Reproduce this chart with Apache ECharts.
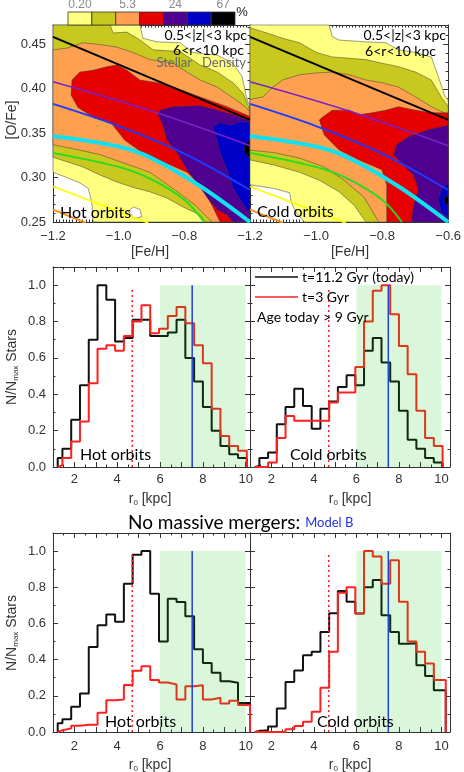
<!DOCTYPE html>
<html>
<head>
<meta charset="utf-8">
<script src="https://cdn.jsdelivr.net/npm/echarts@6/dist/echarts.min.js"></script>
<style>
html,body{margin:0;padding:0;background:#fff}
#main{width:464px;height:772px}
</style>
</head>
<body>
<div id="main"></div>
<script>
// colour bar of the density contours (% of stars)
var levelColors = ['#ffff80', '#c8c81e', '#ffa050', '#e60000', '#500090', '#0000c8', '#000000'];
var levelLabels = ['0.20', '', '5.3', '', '24', '', '67'];

// filled contour outlines, [Fe/H, O/Fe]; hot orbits
var hotYellow = [[-1.2,0.472],[-0.935,0.472],[-0.926,0.457],[-0.883,0.453],[-0.813,0.452],[-0.774,0.441],[-0.700,0.438],[-0.652,0.429],[-0.624,0.414],[-0.609,0.388],[-0.6,0.380],[-0.6,0.25],[-1.078,0.25],[-1.081,0.269],[-1.087,0.280],[-1.093,0.288],[-1.118,0.294],[-1.157,0.300],[-1.2,0.306]];
var hotHole = [[-0.97,0.262],[-0.955,0.267],[-0.935,0.264],[-0.93,0.256],[-0.952,0.254]];
var hotOlive = [[-1.2,0.472],[-1.026,0.472],[-1.017,0.463],[-0.975,0.464],[-0.935,0.455],[-0.895,0.444],[-0.813,0.442],[-0.752,0.427],[-0.700,0.419],[-0.652,0.407],[-0.621,0.395],[-0.6,0.376],[-0.6,0.25],[-0.737,0.25],[-0.752,0.258],[-0.804,0.267],[-0.853,0.277],[-0.905,0.284],[-0.956,0.289],[-1.005,0.295],[-1.057,0.303],[-1.109,0.312],[-1.2,0.323]];
var hotOrange = [[-1.2,0.444],[-1.157,0.446],[-1.109,0.452],[-1.057,0.450],[-1.005,0.447],[-0.956,0.441],[-0.905,0.433],[-0.834,0.429],[-0.792,0.419],[-0.752,0.410],[-0.700,0.402],[-0.652,0.390],[-0.615,0.380],[-0.6,0.374],[-0.6,0.25],[-0.716,0.25],[-0.767,0.269],[-0.828,0.286],[-0.905,0.306],[-0.996,0.318],[-1.057,0.326],[-1.118,0.331],[-1.2,0.337]];
var hotRed = [[-1.142,0.410],[-1.118,0.419],[-1.078,0.421],[-1.036,0.425],[-1.005,0.427],[-0.975,0.421],[-0.935,0.410],[-0.883,0.407],[-0.834,0.402],[-0.752,0.391],[-0.670,0.380],[-0.6,0.369],[-0.6,0.25],[-0.691,0.25],[-0.716,0.269],[-0.752,0.292],[-0.792,0.306],[-0.859,0.317],[-0.920,0.326],[-0.981,0.342],[-1.026,0.363],[-1.072,0.367],[-1.124,0.379],[-1.145,0.393]];
var hotPurple = [[-0.874,0.376],[-0.834,0.380],[-0.752,0.381],[-0.700,0.376],[-0.652,0.371],[-0.6,0.364],[-0.6,0.25],[-0.652,0.25],[-0.670,0.258],[-0.700,0.264],[-0.731,0.278],[-0.761,0.294],[-0.792,0.309],[-0.822,0.328],[-0.853,0.342],[-0.865,0.359],[-0.880,0.371]];
var hotBlue = [[-0.713,0.357],[-0.691,0.362],[-0.661,0.359],[-0.630,0.363],[-0.6,0.362],[-0.6,0.260],[-0.609,0.264],[-0.630,0.275],[-0.652,0.289],[-0.670,0.309],[-0.691,0.328],[-0.700,0.342]];
var hotBlack = [[-0.6,0.342],[-0.615,0.337],[-0.618,0.329],[-0.6,0.322]];

// cold orbits
var coldYellow = [[-1.2,0.472],[-0.96,0.472],[-0.951,0.459],[-0.93,0.455],[-0.849,0.453],[-0.789,0.452],[-0.75,0.444],[-0.699,0.441],[-0.651,0.436],[-0.63,0.414],[-0.609,0.391],[-0.6,0.388],[-0.6,0.25],[-1.035,0.25],[-1.059,0.260],[-1.074,0.271],[-1.08,0.283],[-1.131,0.288],[-1.2,0.292]];
var coldOlive = [[-1.2,0.469],[-1.149,0.463],[-1.101,0.457],[-1.05,0.452],[-0.999,0.441],[-0.951,0.436],[-0.849,0.433],[-0.801,0.429],[-0.75,0.425],[-0.699,0.419],[-0.651,0.410],[-0.621,0.391],[-0.6,0.380],[-0.6,0.25],[-0.849,0.25],[-0.885,0.269],[-0.93,0.284],[-0.99,0.297],[-1.05,0.306],[-1.125,0.314],[-1.2,0.320]];
var coldOrange = [[-1.2,0.388],[-1.161,0.391],[-1.131,0.402],[-1.101,0.410],[-1.05,0.416],[-0.999,0.418],[-0.951,0.419],[-0.9,0.416],[-0.849,0.410],[-0.801,0.407],[-0.75,0.402],[-0.699,0.391],[-0.651,0.380],[-0.6,0.371],[-0.6,0.25],[-0.81,0.25],[-0.855,0.278],[-0.915,0.297],[-0.975,0.312],[-1.05,0.322],[-1.125,0.328],[-1.2,0.331]];
var coldRed = [[-0.981,0.368],[-0.951,0.376],[-0.9,0.376],[-0.87,0.371],[-0.831,0.373],[-0.789,0.376],[-0.75,0.380],[-0.699,0.376],[-0.651,0.373],[-0.6,0.373],[-0.6,0.25],[-0.786,0.25],[-0.786,0.292],[-0.801,0.309],[-0.87,0.320],[-0.93,0.331],[-0.975,0.348],[-0.99,0.365]];
var coldPurple = [[-0.6,0.359],[-0.66,0.354],[-0.72,0.346],[-0.756,0.337],[-0.765,0.326],[-0.735,0.314],[-0.705,0.303],[-0.69,0.286],[-0.705,0.269],[-0.711,0.25],[-0.6,0.25]];
var coldBlue = [[-0.6,0.294],[-0.621,0.286],[-0.63,0.275],[-0.621,0.261],[-0.6,0.256]];
var coldBlack = [[-0.6,0.280],[-0.612,0.277],[-0.609,0.271],[-0.6,0.269]];

// model tracks over the contours
var trackBlack  = [[-1.2,0.4586],[-0.6,0.365]];
var trackPurple = [[-1.2,0.408],[-0.9,0.375],[-0.6,0.336]];
var trackBlue   = [[-1.2,0.383],[-1.0,0.358],[-0.8,0.327],[-0.6,0.286]];
var trackCyan   = [[-1.2,0.347],[-1.0,0.335],[-0.9,0.322],[-0.75,0.29],[-0.6,0.25]];
var trackGreen  = [[-1.2,0.328],[-1.0,0.312],[-0.9,0.298],[-0.8,0.275],[-0.74,0.25]];
var trackYellow = [[-1.2,0.29],[-0.91,0.249]];
var trackOrange = [[-1.2,0.264],[-1.1,0.249]];

// r0 histograms, bin edges [kpc]
var rEdges  = [1.22,1.44,1.85,2.26,2.67,3.08,3.49,3.9,4.31,4.72,5.13,5.54,5.95,6.36,6.77,7.18,7.59,8.0,8.41,8.82,9.23,9.64,10.05];
var rEdgesB = [1.22,1.44,1.85,2.26,2.67,3.08,3.49,3.9,4.31,4.72,5.13,5.54,5.95,6.36,6.77,7.18,7.59,8.0,8.41,8.82,9.23,9.64,10.2];
var hotToday  = [0.05,0.10,0.26,0.45,0.70,1.0,0.92,0.69,0.71,0.81,0.81,0.72,0.72,0.74,0.81,0.60,0.47,0.33,0.20,0.115,0.07,0.05];
var hot3Gyr   = [0.01,0.05,0.14,0.25,0.46,0.65,0.67,0.64,0.72,0.80,0.89,0.735,0.76,0.83,0.88,0.79,0.67,0.57,0.32,0.17,0.115,0.09];
var coldToday = [0.005,0.05,0.08,0.235,0.33,0.43,0.335,0.21,0.32,0.36,0.44,0.505,0.45,0.64,0.71,0.575,0.47,0.31,0.15,0.10,0.05,0.025];
var cold3Gyr  = [0,0,0.025,0.16,0.28,0.255,0.255,0.255,0.255,0.355,0.41,0.41,0.55,0.80,0.97,1.0,0.84,0.665,0.51,0.31,0.16,0.115];
// Model B (no massive mergers)
var hotTodayB  = [0.048,0.07,0.14,0.213,0.47,0.59,0.65,0.61,0.82,0.98,1.0,0.764,0.50,0.736,0.718,0.64,0.457,0.382,0.327,0.281,0.272,0.16];
var hot3GyrB   = [0.01,0.02,0.035,0.04,0.04,0.107,0.176,0.18,0.26,0.338,0.364,0.287,0.274,0.263,0.18,0.253,0.259,0.18,0.189,0.158,0.173,0.149];
var coldTodayB = [0.005,0.01,0.03,0.13,0.277,0.34,0.424,0.443,0.553,0.657,0.78,0.72,0.655,0.80,0.84,0.645,0.553,0.488,0.49,0.369,0.309,0.231];
var cold3GyrB  = [0,0,0,0,0.015,0.033,0.057,0.112,0.244,0.443,0.77,0.80,0.655,1.0,0.97,0.82,0.95,0.72,0.50,0.443,0.378,0.287];

// solar-radius zone, marker lines
var zone = [6, 10, 1.0];
var rSun = 7.5;
var rBar = 4.7;

var FONT = 'Lato, "Open Sans", sans-serif';
var TICKFONT = '"Liberation Sans", Arial, sans-serif';

var myChart = echarts.init(document.getElementById('main'));

var grids = [
  {left: 53,  top: 25,  width: 197, height: 197},
  {left: 250, top: 25,  width: 200, height: 197},
  {left: 53,  top: 267, width: 197, height: 200},
  {left: 250, top: 267, width: 200, height: 200},
  {left: 53,  top: 533, width: 197, height: 199},
  {left: 250, top: 533, width: 200, height: 199}
];

var xAxes = [], yAxes = [];
var axisColor = '#333';

function addAxes(g, xr, yr, xFmt, yFmt, xMinor, yMinor, xMargin) {
  ['bottom', 'top'].forEach(function (pos, k) {
    xAxes.push({
      type: 'value', gridIndex: g, position: pos,
      min: xr[0], max: xr[1], interval: xr[2],
      axisLine: {show: true, onZero: false, lineStyle: {color: axisColor, width: 1}},
      axisTick: {show: true, inside: true, length: 5, lineStyle: {color: axisColor}},
      minorTick: {show: true, splitNumber: xMinor, length: 2.5, lineStyle: {color: axisColor}},
      axisLabel: {show: k === 0 && !!xFmt, formatter: xFmt, margin: xMargin, color: '#333', fontSize: 13, fontFamily: TICKFONT},
      splitLine: {show: false}
    });
  });
  ['left', 'right'].forEach(function (pos, k) {
    yAxes.push({
      type: 'value', gridIndex: g, position: pos,
      min: yr[0], max: yr[1], interval: yr[2],
      axisLine: {show: true, onZero: false, lineStyle: {color: axisColor, width: 1}},
      axisTick: {show: true, inside: true, length: 5, lineStyle: {color: axisColor}},
      minorTick: {show: true, splitNumber: yMinor, length: 2.5, lineStyle: {color: axisColor}},
      axisLabel: {show: k === 0 && !!yFmt, formatter: yFmt, margin: 7, color: '#333', fontSize: 13, fontFamily: TICKFONT},
      splitLine: {show: false}
    });
  });
}

function feFmt(hideLast) {
  return function (v) {
    if (hideLast && v > -0.65) return '';
    return (v < 0 ? '\u2212' : '') + Math.abs(v).toFixed(1);
  };
}
function ofeFmt(v) { return v > 0.46 ? '' : v.toFixed(2); }
function nFmt(v) { return v > 1.05 ? '' : v.toFixed(1); }
function rFmt(v) { return (Math.abs(v % 2) < 1e-6 && v <= 10.01) ? String(Math.round(v)) : ''; }

addAxes(0, [-1.2, -0.6, 0.2], [0.25, 0.472, 0.05], feFmt(true), ofeFmt, 20, 5, 8);
addAxes(1, [-1.2, -0.6, 0.2], [0.25, 0.472, 0.05], feFmt(false), null, 20, 5, 8);
addAxes(2, [1, 10.2, 1], [0, 1.1, 0.2], rFmt, nFmt, 2, 2, 6);
addAxes(3, [1, 10.4, 1], [0, 1.1, 0.2], rFmt, null, 2, 2, 6);
addAxes(4, [1, 10.2, 1], [0, 1.1, 0.2], rFmt, nFmt, 2, 2, 8);
addAxes(5, [1, 10.4, 1], [0, 1.1, 0.2], rFmt, null, 2, 2, 8);

var series = [];

function contourSeries(g, polys, fills) {
  series.push({
    type: 'custom', xAxisIndex: 2 * g, yAxisIndex: 2 * g, z: 1, silent: true,
    data: polys.map(function (p) { return p[0]; }),
    renderItem: function (params, api) {
      var i = params.dataIndex;
      var pts = polys[i].map(function (p) { return api.coord(p); });
      return {
        type: 'polygon', shape: {points: pts},
        style: {fill: fills[i], stroke: '#3a3a3a', lineWidth: 0.5}
      };
    }
  });
}

function trackSeries(g) {
  var tracks = [
    [trackBlack, '#000000', 2],
    [trackPurple, '#7a22c8', 1.6],
    [trackBlue, '#1a3cff', 1.8],
    [trackCyan, '#10e0f0', 4],
    [trackGreen, '#22dd22', 1.8],
    [trackYellow, '#ffff00', 1.8],
    [trackOrange, '#ff8c10', 1.8]
  ];
  tracks.forEach(function (t) {
    series.push({
      type: 'line', xAxisIndex: 2 * g, yAxisIndex: 2 * g, z: 3,
      data: t[0], smooth: t[0].length > 2 ? 0.35 : false,
      showSymbol: false, clip: true, silent: true,
      lineStyle: {color: t[1], width: t[2]}
    });
  });
}

var cb = levelColors;
contourSeries(0, [hotYellow, hotHole, hotOlive, hotOrange, hotRed, hotPurple, hotBlue, hotBlack],
  [cb[0], '#ffffff', cb[1], cb[2], cb[3], cb[4], cb[5], cb[6]]);
contourSeries(1, [coldYellow, coldOlive, coldOrange, coldRed, coldPurple, coldBlue, coldBlack], cb);
trackSeries(0);
trackSeries(1);

function stepData(edges, vals) {
  var d = [[edges[0], 0]];
  for (var i = 0; i < vals.length; i++) d.push([edges[i], vals[i]]);
  d.push([edges[vals.length], vals[vals.length - 1]]);
  d.push([edges[vals.length], 0]);
  return d;
}

function histPanel(g, edges, today, old) {
  var ax = {xAxisIndex: 2 * g, yAxisIndex: 2 * g};
  series.push(Object.assign({
    type: 'line', step: 'end', data: stepData(edges, today), z: 2,
    showSymbol: false, silent: true, lineStyle: {color: '#111', width: 2}
  }, ax));
  series.push(Object.assign({
    type: 'line', step: 'end', data: stepData(edges, old), z: 3,
    showSymbol: false, silent: true, lineStyle: {color: '#ff2020', width: 2}
  }, ax));
  series.push(Object.assign({
    type: 'line', data: [[rBar, 0], [rBar, 0.98]], z: 3,
    showSymbol: false, silent: true, lineStyle: {color: '#ff2020', width: 1.5, type: [2, 3]}
  }, ax));
  series.push(Object.assign({
    type: 'custom', z: 5, silent: true, data: [zone],
    renderItem: function (params, api) {
      var a = api.coord([api.value(0), api.value(2)]);
      var b = api.coord([api.value(1), 0]);
      return {type: 'rect', shape: {x: a[0], y: a[1], width: b[0] - a[0], height: b[1] - a[1]},
        style: {fill: 'rgba(0,200,0,0.14)'}};
    }
  }, ax));
  series.push(Object.assign({
    type: 'line', data: [[rSun, 0], [rSun, 1.0]], z: 6,
    showSymbol: false, silent: true, lineStyle: {color: '#2040e0', width: 1.5}
  }, ax));
}

histPanel(2, rEdges, hotToday, hot3Gyr);
histPanel(3, rEdges, coldToday, cold3Gyr);
histPanel(4, rEdgesB, hotTodayB, hot3GyrB);
histPanel(5, rEdgesB, coldTodayB, cold3GyrB);

// texts and colour bar
var graphic = [];
function txt(x, y, s, o) {
  o = o || {};
  graphic.push({
    type: 'text', x: x, y: y, rotation: o.rot || 0, z: 100, silent: true,
    style: {
      text: s, fill: o.color || '#000', fontSize: o.size || 14, fontFamily: o.font || FONT,
      align: o.align || 'left', verticalAlign: 'middle', rich: o.rich
    }
  });
}

var cbLeft = 68, cbW = (235 - 68) / levelColors.length;
levelColors.forEach(function (c, i) {
  graphic.push({type: 'rect', z: 100, silent: true,
    shape: {x: cbLeft + i * cbW, y: 12, width: cbW, height: 13},
    style: {fill: c, stroke: '#333', lineWidth: 0.8}});
  if (levelLabels[i]) txt(cbLeft + (i + 0.5) * cbW, 5, levelLabels[i], {align: 'center', color: '#888', size: 12, font: TICKFONT});
});
txt(242, 12, '%', {align: 'center', size: 13, font: TICKFONT, color: '#222'});

txt(247, 35, '0.5<|z|<3 kpc', {align: 'right'});
txt(244, 50, '6<r<10 kpc', {align: 'right'});
txt(246, 63, 'Stellar   Density', {align: 'right', color: '#666', size: 13});
txt(446, 35, '0.5<|z|<3 kpc', {align: 'right'});
txt(436, 51, '6<r<10 kpc', {align: 'right'});
txt(60, 213, 'Hot orbits', {size: 16});
txt(257, 212, 'Cold orbits', {size: 16});
txt(150, 252, '[Fe/H]', {align: 'center', color: '#333', font: TICKFONT});
txt(350, 252, '[Fe/H]', {align: 'center', color: '#333', font: TICKFONT});
txt(12, 120, '[O/Fe]', {align: 'center', color: '#333', font: TICKFONT, rot: Math.PI / 2});

var subRich = {
  a: {fontSize: 14, fontFamily: TICKFONT, fill: '#333', lineHeight: 16},
  s: {fontSize: 8, fontFamily: TICKFONT, fill: '#333', lineHeight: 10, verticalAlign: 'bottom'}
};
txt(12, 367, '{a|N/N}{s|max}{a| Stars}', {align: 'center', rot: Math.PI / 2, rich: subRich});
txt(12, 633, '{a|N/N}{s|max}{a| Stars}', {align: 'center', rot: Math.PI / 2, rich: subRich});
txt(150, 499, '{a|r}{s|0}{a| [kpc]}', {align: 'center', rich: subRich});
txt(350, 499, '{a|r}{s|0}{a| [kpc]}', {align: 'center', rich: subRich});
txt(150, 765, '{a|r}{s|0}{a| [kpc]}', {align: 'center', rich: subRich});
txt(350, 765, '{a|r}{s|0}{a| [kpc]}', {align: 'center', rich: subRich});

// legend of the age panels
graphic.push({type: 'line', z: 100, silent: true, shape: {x1: 255, y1: 277, x2: 298, y2: 277}, style: {stroke: '#111', lineWidth: 1.5}});
graphic.push({type: 'line', z: 100, silent: true, shape: {x1: 255, y1: 297, x2: 298, y2: 297}, style: {stroke: '#ff2020', lineWidth: 1.5}});
txt(302, 277, 't=11.2 Gyr (today)');
txt(302, 297, 't=3 Gyr');
txt(257, 317, 'Age today > 9 Gyr');
txt(80, 455, 'Hot orbits', {size: 16});
txt(290, 455, 'Cold orbits', {size: 16});

txt(128, 523, '{a|No massive mergers: }{b|Model B}', {rich: {
  a: {fontSize: 19, fontFamily: FONT, fill: '#000', lineHeight: 22},
  b: {fontSize: 13, fontFamily: FONT, fill: '#2233dd', lineHeight: 22}
}});
txt(105, 722, 'Hot orbits', {size: 16});
txt(317, 722, 'Cold orbits', {size: 16});

myChart.setOption({
  animation: false,
  grid: grids,
  xAxis: xAxes,
  yAxis: yAxes,
  series: series,
  graphic: graphic
});
</script>
</body>
</html>
